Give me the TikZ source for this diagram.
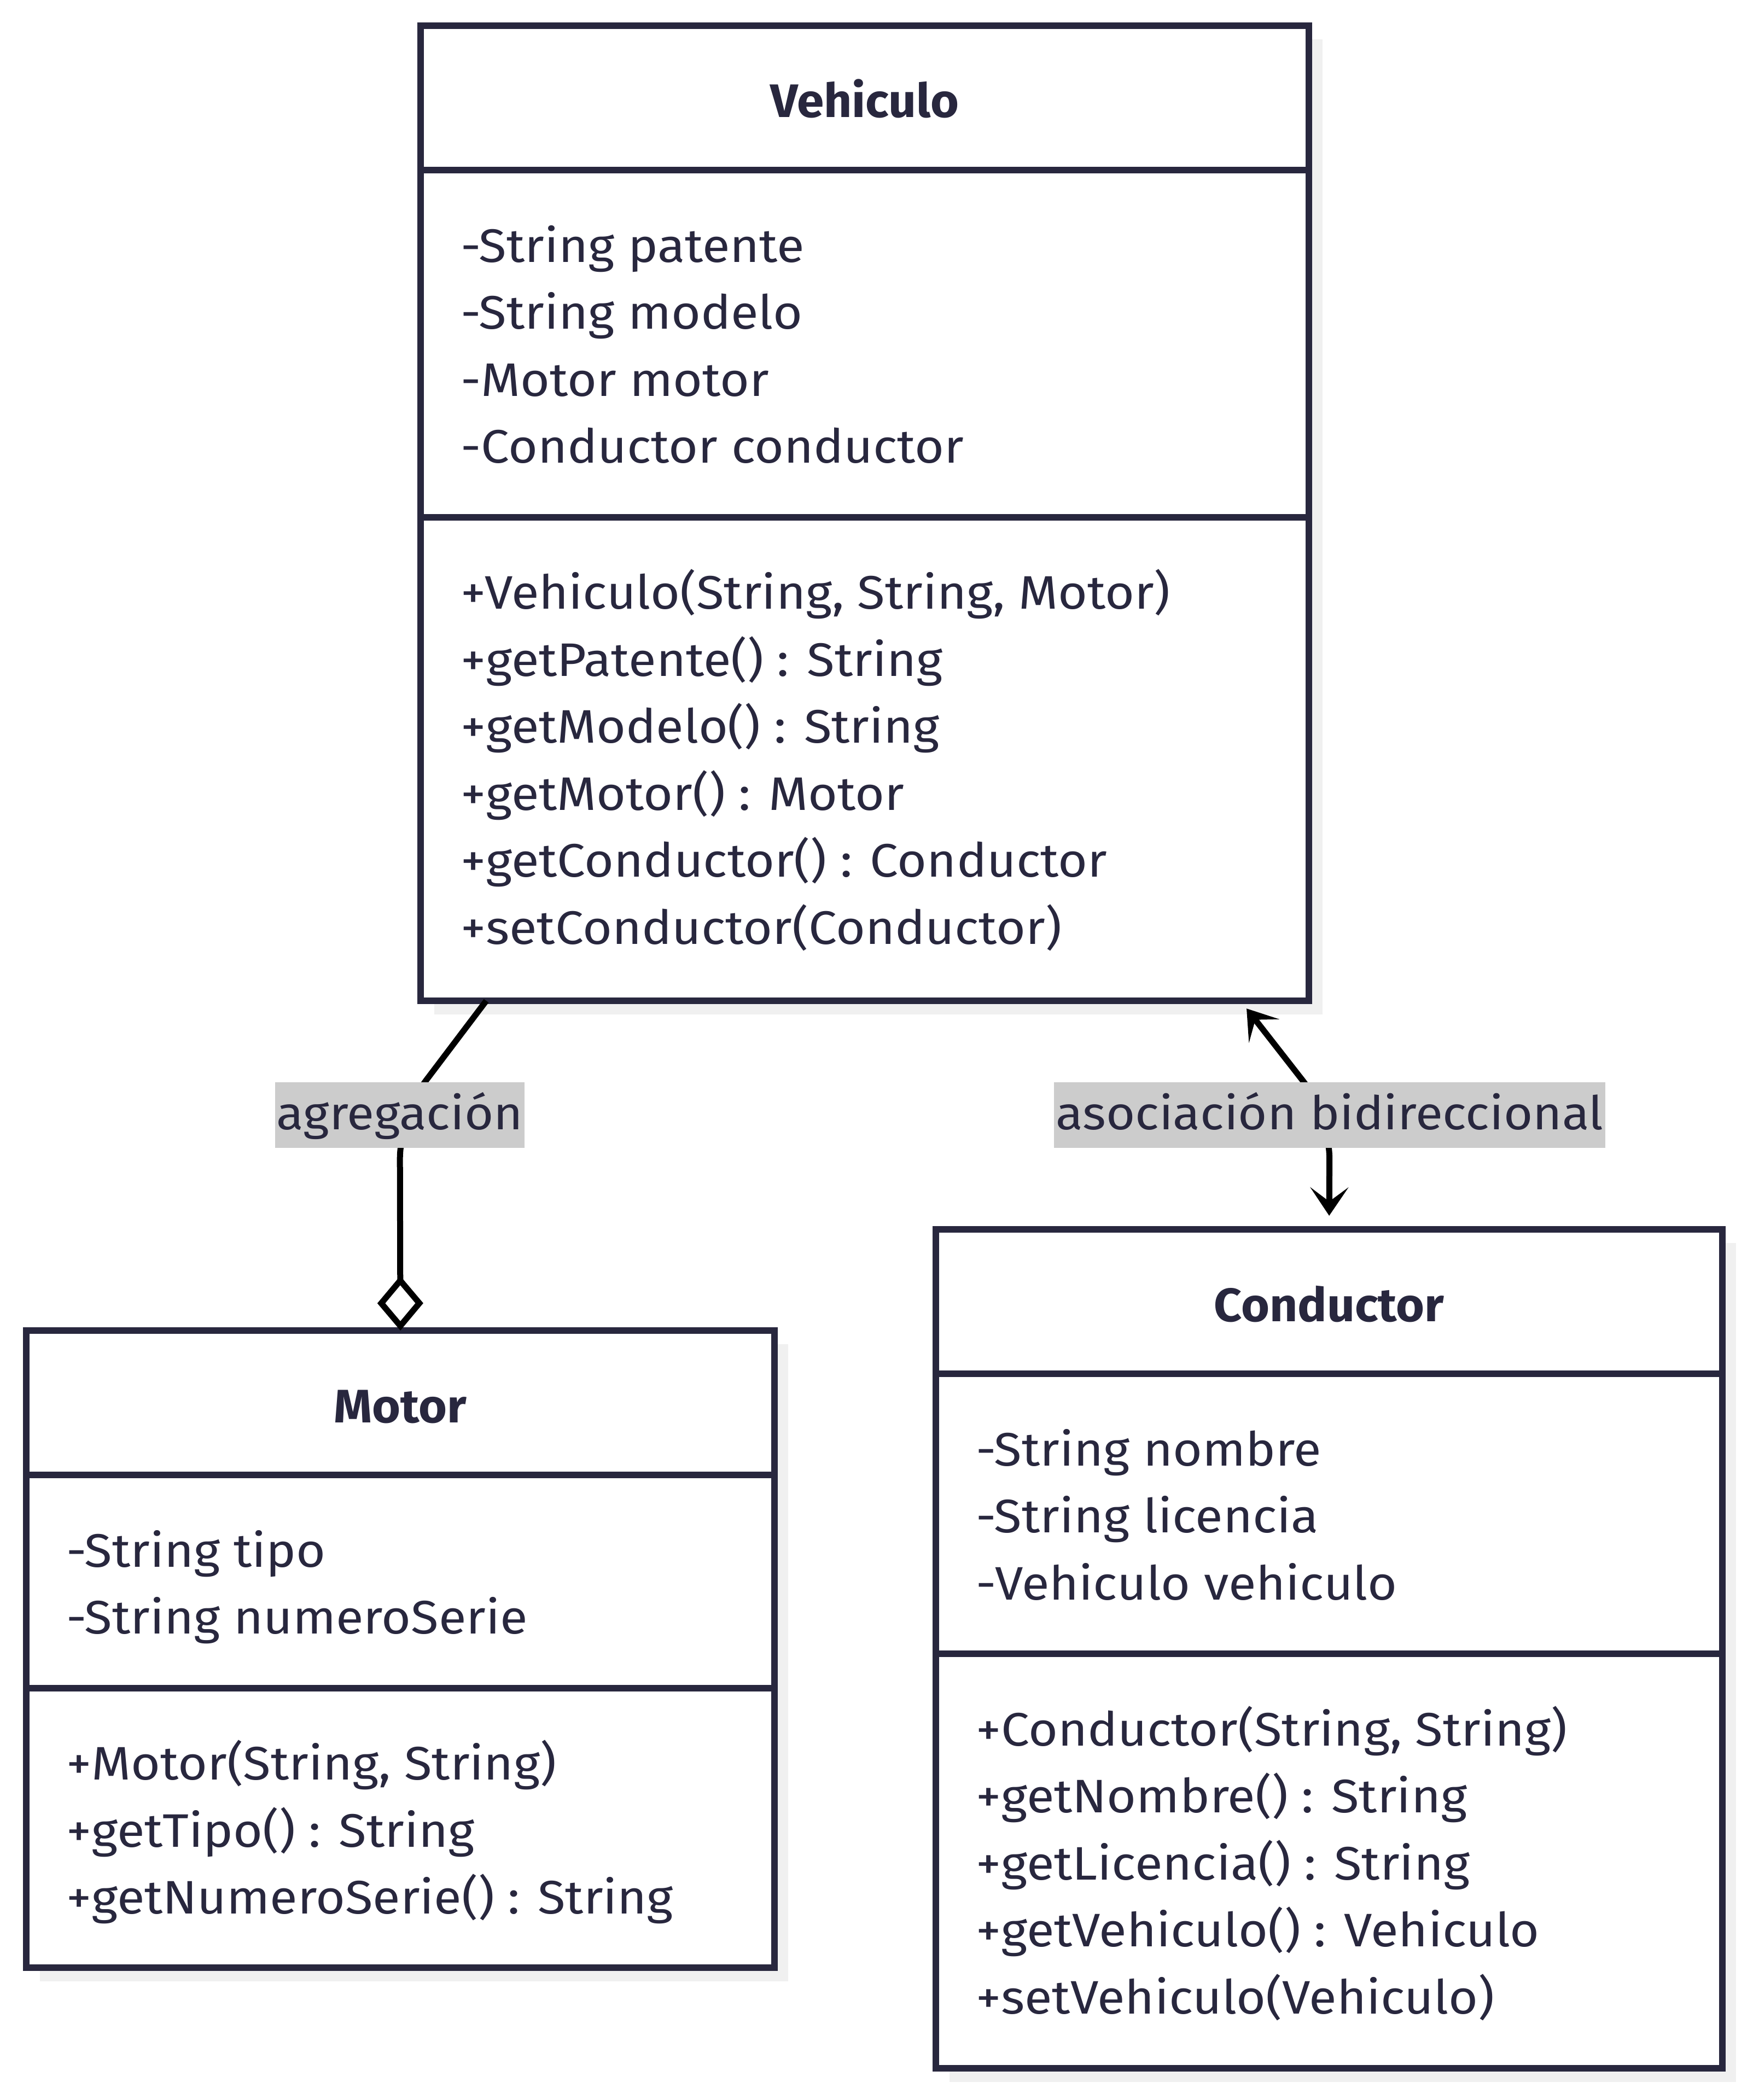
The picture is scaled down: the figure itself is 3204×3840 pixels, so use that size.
\documentclass[tikz,border=0pt]{standalone}
\usepackage{fontspec}
\setmainfont{Fira Sans}[FakeStretch=1.075, BoldFeatures={FakeStretch=1.035}]
\usetikzlibrary{arrows.meta,shadows}
\definecolor{umlink}{RGB}{40,39,62}
\definecolor{shadowgray}{RGB}{240,240,240}
\definecolor{labelgray}{RGB}{204,204,204}
\tikzset{
  classbox/.style = {
    draw=umlink, line width=12pt, fill=white,
    anchor=north west, inner sep=0pt, outer sep=0pt,
    drop shadow={shadow xshift=25pt, shadow yshift=-25pt, fill=shadowgray, opacity=1}
  },
  divider/.style = {draw=umlink, line width=12pt},
  member/.style = {text=umlink, anchor=base west, inner sep=0pt,
    font=\fontsize{86}{122}\selectfont},
  classname/.style = {member, anchor=base, font=\fontsize{86}{122}\selectfont\bfseries},
  relation/.style = {line width=11pt, black, rounded corners=80pt},
  rellabel/.style = {sharp corners, fill=labelgray, text=umlink, inner xsep=3pt, inner ysep=0pt,
    text height=86pt, text depth=34pt, font=\fontsize{85}{122}\selectfont}
}
\tikzset{>={Stealth[length=52pt,width=70pt,inset=26pt]}}

\begin{document}
\begin{tikzpicture}[x=1pt,y=-1pt]
  \useasboundingbox (0,0) rectangle (3204,3840);

  % Vehiculo
  \node[classbox, minimum width=1624pt, minimum height=1783pt] (veh) at (769,47) {};
  \draw[divider] ([yshift=-264pt]veh.north west) -- ([yshift=-264pt]veh.north east);
  \draw[divider] ([yshift=-898.5pt]veh.north west) -- ([yshift=-898.5pt]veh.north east);
  \node[classname] (veh-name) at ([yshift=-168pt]veh.north) {Vehiculo};
  \foreach \txt [count=\i from 0] in {-String patente, -String modelo, -Motor motor, -Conductor conductor}
    \node[member] (veh-a\i) at ([xshift=73pt, yshift=-432pt-\i*122.5pt]veh.north west) {\txt};
  \foreach \txt [count=\i from 0] in {{+Vehiculo(String, String, Motor)}, +getPatente() : String,
      +getModelo() : String, +getMotor() : Motor, +getConductor() : Conductor, +setConductor(Conductor)}
    \node[member] (veh-m\i) at ([xshift=73pt, yshift=-1066.5pt-\i*122.5pt]veh.north west) {\txt};

  % Motor
  \node[classbox, minimum width=1368pt, minimum height=1165pt] (mot) at (48,2433) {};
  \draw[divider] ([yshift=-264pt]mot.north west) -- ([yshift=-264pt]mot.north east);
  \draw[divider] ([yshift=-653.5pt]mot.north west) -- ([yshift=-653.5pt]mot.north east);
  \node[classname] (mot-name) at ([yshift=-168pt]mot.north) {Motor};
  \foreach \txt [count=\i from 0] in {-String tipo, -String numeroSerie}
    \node[member] (mot-a\i) at ([xshift=73pt, yshift=-432pt-\i*122.5pt]mot.north west) {\txt};
  \foreach \txt [count=\i from 0] in {{+Motor(String, String)}, +getTipo() : String, +getNumeroSerie() : String}
    \node[member] (mot-m\i) at ([xshift=73pt, yshift=-821.5pt-\i*122.5pt]mot.north west) {\txt};

  % Conductor
  \node[classbox, minimum width=1438pt, minimum height=1534pt] (con) at (1711,2248) {};
  \draw[divider] ([yshift=-264pt]con.north west) -- ([yshift=-264pt]con.north east);
  \draw[divider] ([yshift=-776pt]con.north west) -- ([yshift=-776pt]con.north east);
  \node[classname] (con-name) at ([yshift=-168pt]con.north) {Conductor};
  \foreach \txt [count=\i from 0] in {-String nombre, -String licencia, -Vehiculo vehiculo}
    \node[member] (con-a\i) at ([xshift=73pt, yshift=-432pt-\i*122.5pt]con.north west) {\txt};
  \foreach \txt [count=\i from 0] in {{+Conductor(String, String)}, +getNombre() : String,
      +getLicencia() : String, +getVehiculo() : Vehiculo, +setVehiculo(Vehiculo)}
    \node[member] (con-m\i) at ([xshift=73pt, yshift=-944pt-\i*122.5pt]con.north west) {\txt};

  % relaciones
  \coordinate (agg-start) at ([xshift=120pt]veh.south west);
  \coordinate (agg-bend) at (731,2039);
  \draw[relation, -{Diamond[open, length=100pt, width=84pt]}]
    (agg-start) -- (agg-bend) node[rellabel] (agg-label) {agregación} -- (mot.north);

  \coordinate (assoc-start) at ([xshift=1499pt]veh.south west);
  \coordinate (assoc-bend) at (2431,2039);
  \draw[relation, <->, shorten <=18pt, shorten >=25pt]
    (assoc-start) -- (assoc-bend) node[rellabel] (assoc-label) {asociación bidireccional} -- (con.north);
\end{tikzpicture}
\end{document}
